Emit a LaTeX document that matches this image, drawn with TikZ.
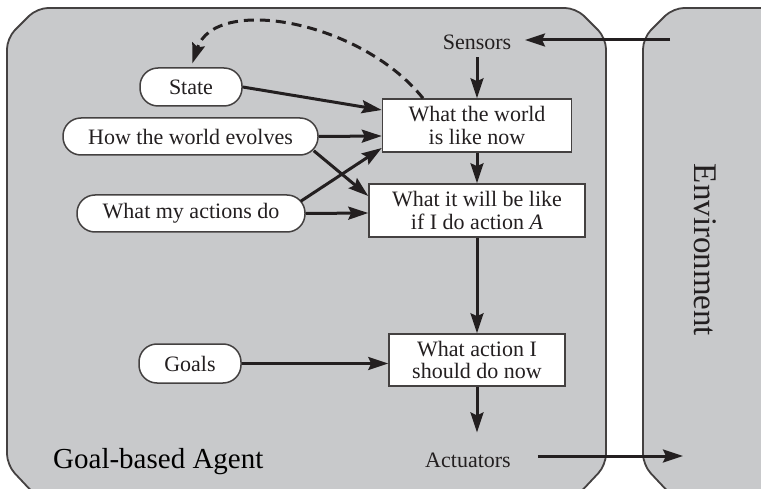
\documentclass[tikz,border=0pt]{standalone}
\usepackage{fontspec}
\setmainfont{Liberation Serif}
\usetikzlibrary{arrows.meta}
\definecolor{panel}{RGB}{200,201,203}
\definecolor{ink}{RGB}{35,31,32}
\tikzset{
  frame/.style={draw=ink!85, line width=1.8pt, fill=panel, rounded corners=11pt},
  pill/.style={draw=ink!85, line width=1.5pt, fill=white, rounded corners=18pt,
    inner sep=0pt, font=\fontsize{22}{22.5}\selectfont, text=ink},
  stepbox/.style={draw=ink!85, line width=1.5pt, fill=white, inner sep=0pt,
    align=center, font=\fontsize{22}{22.5}\selectfont, text=ink},
  tag/.style={inner sep=0pt, font=\fontsize{22}{22.5}\selectfont, text=ink},
  arr/.style={draw=ink, line width=3pt,
    -{Stealth[length=20pt,width=13pt,inset=3pt]}},
}
\begin{document}
\begin{tikzpicture}[x=1pt,y=-1pt]
\useasboundingbox (0,0) rectangle (761,489);

% agent and environment panels
\begin{scope}
  \clip (0,0) rectangle (761,489);
  \draw[frame] (37,8) -- (576,8) -- (606,38) -- (606,465) -- (576,497)
    -- (37,497) -- (7,465) -- (7,38) -- cycle;
  \draw[frame] (673,8) -- (820,8) -- (820,497) -- (673,497) -- (643,465)
    -- (643,38) -- cycle;
\end{scope}

% knowledge ovals
\node[pill, minimum width=102pt, minimum height=38pt] (state) at (191,87) {State};
\node[pill, minimum width=255pt, minimum height=37pt] (evolve) at (190.5,136.5) {How the world evolves};
\node[pill, minimum width=228pt, minimum height=37pt] (acts) at (191,213.5) {What my actions do};
\node[pill, minimum width=102pt, minimum height=39pt] (goals) at (190,363.5) {Goals};

% reasoning steps
\node[stepbox, minimum width=189pt, minimum height=53pt] (now) at (477,125.5) {What the world\\is like now};
\node[stepbox, minimum width=216pt, minimum height=53pt] (next) at (477,210.5) {What it will be like\\if I do action \textit{A}};
\node[stepbox, minimum width=176pt, minimum height=52pt] (choose) at (477,360) {What action I\\should do now};

% percepts and actions
\node[tag] (sensors) at (477,42.5) {Sensors};
\node[tag] (act) at (468,460) {Actuators};
\node[anchor=base west, inner sep=0pt, font=\fontsize{29}{30}\selectfont, text=black] (agentname) at (53,468) {Goal-based Agent};
\node[rotate=-90, inner sep=0pt, font=\fontsize{33}{34}\selectfont, text=ink] (envname) at (705.5,250) {Environment};

\coordinate (envS) at (670,40);
\coordinate (sensIn) at (525,40);
\coordinate (envA) at (683,456);
\coordinate (actOut) at ([xshift=27pt,yshift=4pt]act.east);

% connectors
\draw[arr] (envS) -- (sensIn);
\draw[arr] ([yshift=-7pt]sensors.south) -- (now.north);
\draw[arr] (now.south) -- (next.north);
\draw[arr] (next.south) -- (choose.north);
\draw[arr, shorten >=20pt] (choose.south) -- (choose.south |- act.north);
\draw[arr] (actOut) -- (envA);

\draw[arr] (state.east) -- ([yshift=15.5pt]now.west);
\draw[arr] (evolve.east) -- ([yshift=-10.5pt]now.west);
\draw[arr] ([xshift=-5pt,yshift=5pt]evolve.south east) -- ([yshift=14.5pt]next.west);
\draw[arr] ([xshift=-5pt,yshift=-7pt]acts.north east) -- ([yshift=-22.5pt]now.west);
\draw[arr] (acts.east) -- ([yshift=-2.5pt]next.west);
\draw[arr] (goals.east) -- (goals.east -| choose.west);

\draw[arr, dash pattern=on 10pt off 6pt, shorten >=4pt]
  ([xshift=-54pt]now.north) .. controls (360,20) and (215,-5) .. (state.north);
\end{tikzpicture}
\end{document}
